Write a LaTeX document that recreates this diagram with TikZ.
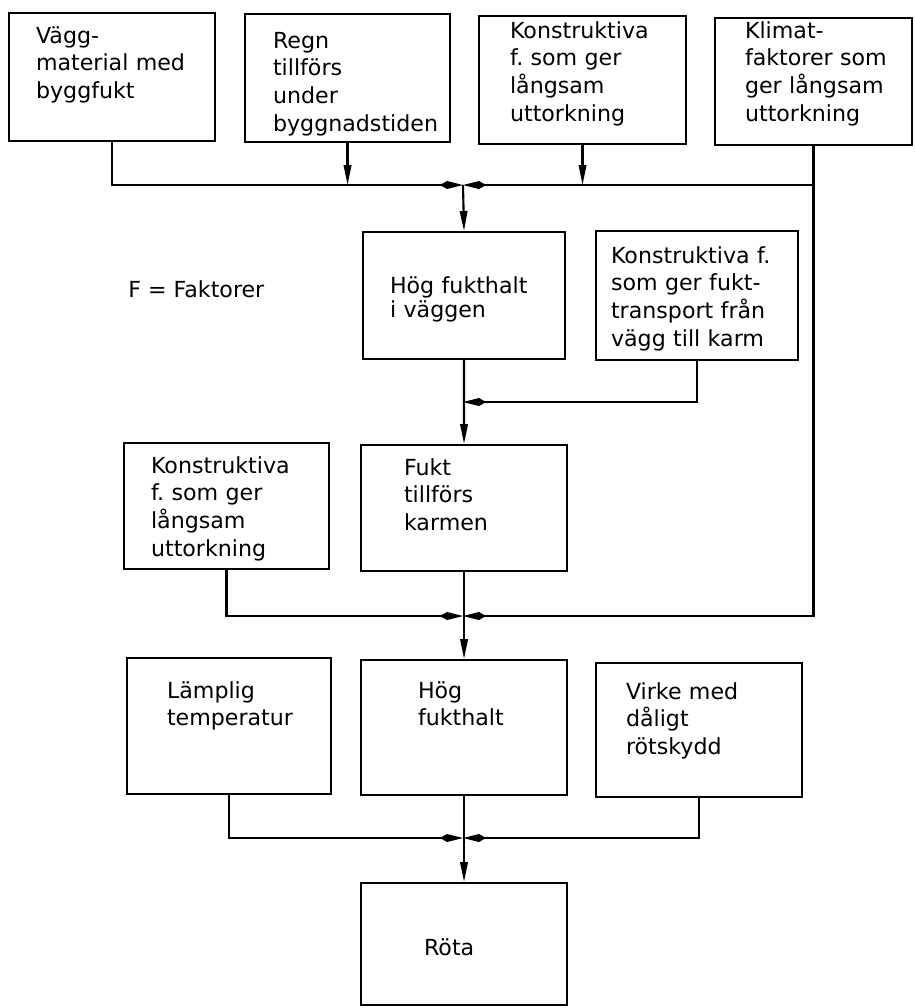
\documentclass[tikz,border=0pt]{standalone}
\usepackage{fontspec}
\setmainfont{DejaVu Sans}
\usetikzlibrary{arrows.meta}
\newcommand{\lettering}{\fontsize{12.6}{15.9}\selectfont\frenchspacing}
\tikzset{
  box/.style={draw, line width=1.2pt, anchor=north west, inner sep=0pt, align=left, font=\lettering},
  arr/.style={-{Triangle[length=0.40cm,width=0.15cm]}, line width=1.2pt},
  meet/.style={-{Kite[length=0.46cm,width=0.16cm,inset=0.14cm]}, line width=1.2pt},
}

\begin{document}
\begin{tikzpicture}[x=0.02cm, y=-0.02cm]
\useasboundingbox (0,0) rectangle (915,1008);
% top row
\node[box, minimum width=4.12cm, text width=4.12cm, text height=0.60cm, text depth=1.96cm, execute at begin node={\leftskip=0.54cm\relax}] (vagg) at (8,12) {Vägg-\\material med\\byggfukt};
\node[box, minimum width=4.10cm, text width=4.10cm, text height=0.68cm, text depth=1.88cm, execute at begin node={\leftskip=0.56cm\relax}] (regn) at (244,13) {Regn\\tillförs\\under\\byggnadstiden};
\node[box, minimum width=4.14cm, text width=4.14cm, text height=0.44cm, text depth=2.12cm, execute at begin node={\leftskip=0.62cm\relax}] (konst1) at (478,15) {Konstruktiva\\f. som ger\\långsam\\uttorkning};
\node[box, minimum width=3.94cm, text width=3.94cm, text height=0.40cm, text depth=2.14cm, execute at begin node={\leftskip=0.60cm\relax}] (klimat) at (714,17) {Klimat-\\faktorer som\\ger långsam\\uttorkning};
% second row
\node[font=\lettering, anchor=base west, inner sep=0pt] (legend) at (128,297) {F = Faktorer};
\node[box, minimum width=4.04cm, text width=4.04cm, text height=1.22cm, text depth=1.32cm, execute at begin node={\leftskip=0.54cm\relax}] (hogv) at (362,231) {Hög fukthalt\\[-0.07cm]i väggen};
\node[box, minimum width=4.04cm, text width=4.04cm, text height=0.64cm, text depth=1.94cm, execute at begin node={\leftskip=0.30cm\relax}] (fkt) at (595,230) {Konstruktiva f.\\som ger fukt-\\transport från\\vägg till karm};
% third row
\node[box, minimum width=4.10cm, text width=4.10cm, text height=0.60cm, text depth=1.92cm, execute at begin node={\leftskip=0.54cm\relax}] (konst2) at (123,442) {Konstruktiva\\f. som ger\\långsam\\uttorkning};
\node[box, minimum width=4.12cm, text width=4.12cm, text height=0.60cm, text depth=1.92cm, execute at begin node={\leftskip=0.86cm\relax}] (fukt) at (360,444) {Fukt\\tillförs\\karmen};
% fourth row
\node[box, minimum width=4.08cm, text width=4.08cm, text height=0.80cm, text depth=1.92cm, execute at begin node={\leftskip=0.80cm\relax}] (lamp) at (126,657) {Lämplig\\temperatur};
\node[box, minimum width=4.12cm, text width=4.12cm, text height=0.76cm, text depth=1.94cm, execute at begin node={\leftskip=1.14cm\relax}] (hogf) at (360,659) {Hög\\fukthalt};
\node[box, minimum width=4.12cm, text width=4.12cm, text height=0.72cm, text depth=1.96cm, execute at begin node={\leftskip=0.60cm\relax}] (virke) at (595,662) {Virke med\\dåligt\\rötskydd};
% result
\node[box, minimum width=4.12cm, text width=4.12cm, text height=1.44cm, text depth=1.00cm, execute at begin node={\leftskip=1.26cm\relax}] (rota) at (360,882) {Röta};
% junctions
\coordinate (j1) at (463,185);
\coordinate (jf) at (463,402);
\coordinate (j2) at (463,616);
\coordinate (j3) at (463,838);
% connectors
\draw[meet] (vagg.south) |- (j1);
\draw[meet] (klimat.south) |- (j1);
\draw[arr] (regn.south) -- (regn.south |- j1);
\draw[arr] (konst1.south) -- (konst1.south |- j1);
\draw[arr] (j1) -- (hogv.north);
\draw[arr] (hogv.south) -- (fukt.north);
\draw[meet] (fkt.south) |- (jf);
\draw[meet] (konst2.south) |- (j2);
\draw[meet] (klimat.south |- j1) |- (j2);
\draw[arr] (fukt.south) -- (hogf.north);
\draw[meet] (lamp.south) |- (j3);
\draw[meet] (virke.south) |- (j3);
\draw[arr] (hogf.south) -- (rota.north);
\end{tikzpicture}
\end{document}
